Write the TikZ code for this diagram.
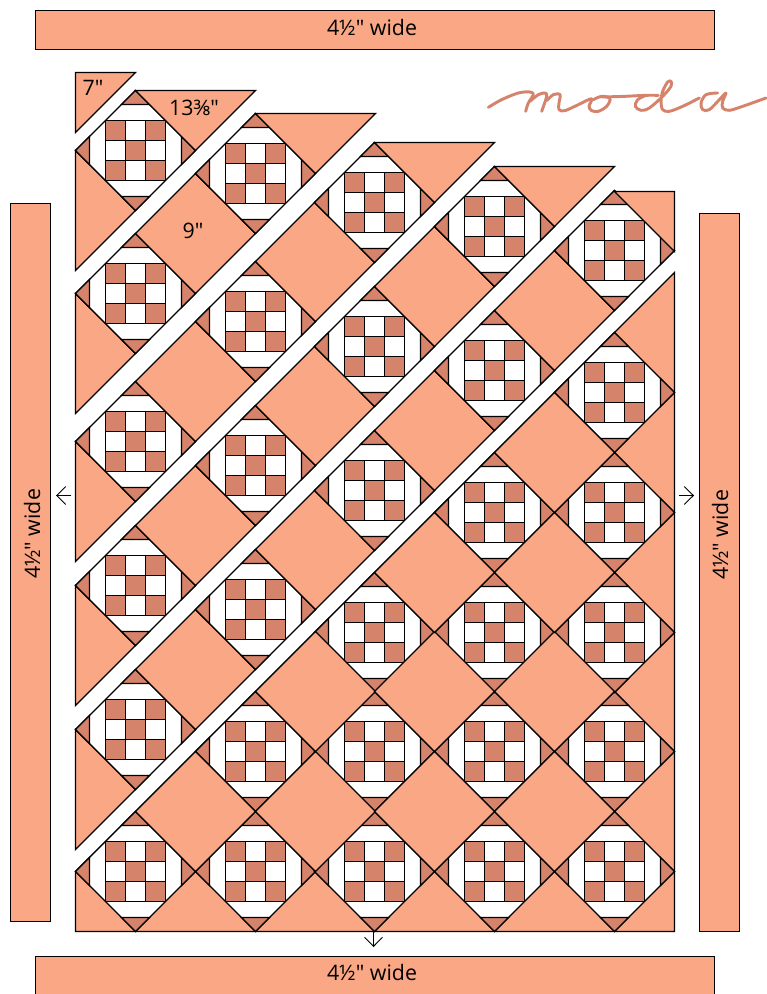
\documentclass[tikz,border=0pt]{standalone}
\usepackage{fontspec}
\newfontfamily\labfont{Open Sans}[Ligatures=ResetAll]
\usetikzlibrary{arrows.meta}
\definecolor{peach}{HTML}{F9A785}
\definecolor{clay}{HTML}{D5836A}
\tikzset{
  x=0.75pt,y=-0.75pt,
  line join=miter,
  outline/.style={draw=black,line width=1pt},
  peachfill/.style={outline,fill=peach},
  clayfill/.style={outline,fill=clay},
  whitefill/.style={outline,fill=white},
  label/.style={font=\labfont\fontsize{16}{18}\selectfont,text=black,inner sep=0pt},
  pointer/.style={draw=black,line width=0.7pt,-{Straight Barb[length=6.8pt,width=13.5pt,line width=0.7pt]}},
  wordmark/.style={draw=clay,line width=2.2pt,line cap=round,line join=round}
}
\newcommand{\snapxy}[2]{\pgfmathsetmacro{\sxx}{floor(#1)+0.5}\pgfmathsetmacro{\syy}{floor(#2)+0.5}}
\newcommand{\quiltblock}[2]{%
  \snapxy{#1}{#2}%
  \begin{scope}[shift={(\sxx,\syy)}]
    \draw[whitefill] (-60,0) -- (0,-60) -- (60,0) -- (0,60) -- cycle;
    \draw[clayfill] (0,-60) -- (14,-46) -- (-14,-46) -- cycle;
    \draw[clayfill] (0,60) -- (14,46) -- (-14,46) -- cycle;
    \draw[clayfill] (-60,0) -- (-46,14) -- (-46,-14) -- cycle;
    \draw[clayfill] (60,0) -- (46,14) -- (46,-14) -- cycle;
    \foreach \i in {-1,0,1}{\foreach \j in {-1,0,1}{%
      \pgfmathparse{int(mod(\i+\j+2,2))}%
      \ifnum\pgfmathresult=0
        \draw[clayfill] ({\i*20-10},{\j*20-10}) rectangle ++(20,20);
      \else
        \draw[whitefill] ({\i*20-10},{\j*20-10}) rectangle ++(20,20);
      \fi}}
  \end{scope}}
\newcommand{\quiltsquare}[2]{%
  \snapxy{#1}{#2}%
  \draw[peachfill] ({\sxx-60},\syy) -- (\sxx,{\syy-60}) -- ({\sxx+60},\syy) -- (\sxx,{\syy+60}) -- cycle;}
\newcommand{\lefttri}[2]{%
  \snapxy{#1}{#2}%
  \draw[peachfill] ({\sxx-60},\syy) -- ({\sxx-60},{\syy+120}) -- (\sxx,{\syy+60}) -- cycle;}
\newcommand{\toptri}[2]{%
  \snapxy{#1}{#2}%
  \draw[peachfill] (\sxx,{\syy-60}) -- ({\sxx+120},{\syy-60}) -- ({\sxx+60},\syy) -- cycle;}
\newcommand{\quiltstrip}[2]{%
  \lefttri{135.5}{#1}
  \foreach \n in {1,...,#2}{%
    \pgfmathsetmacro{\bx}{135.5+119.7*(\n-1)}
    \pgfmathsetmacro{\by}{#1-119.7*(\n-1)}
    \quiltblock{\bx}{\by}
    \ifnum\n<#2
      \quiltsquare{\bx+59.85}{\by-59.85}
    \fi
  }}
\begin{document}
\begin{tikzpicture}
\useasboundingbox (0,0) rectangle (766,994);
\begin{scope}
\clip (0,0) rectangle (766,994);
\draw[peachfill] (35.5,10.5) rectangle (714.5,49.5);
\draw[peachfill] (35.5,956.5) rectangle (714.5,1000);
\draw[peachfill] (10.5,203.5) rectangle (50.5,921.5);
\draw[peachfill] (699.5,213.5) rectangle (739.5,931.5);
\end{scope}
\node[label] (topb) at (372,28) {4½" wide};
\node[label] (botb) at (372,972) {4½" wide};
\node[label,rotate=90] (leftb) at (32,534) {4½" wide};
\node[label,rotate=90] (rightb) at (720,535) {4½" wide};
\draw[peachfill] (75.5,72.5) -- (135.5,72.5) -- (75.5,132.5) -- cycle;
\quiltstrip{150.5}{1}
\toptri{135.5}{150.5}
\quiltstrip{293.5}{2}
\toptri{255.2}{173.8}
\quiltstrip{441.5}{3}
\toptri{374.9}{202.1}
\quiltstrip{585.5}{4}
\toptri{494.6}{226.4}
\quiltstrip{729.5}{5}
\draw[peachfill] (614.5,191.5) -- (674.5,191.5) -- (674.5,251.5) -- cycle;
\draw[peachfill] (75.5,871.5) -- (75.5,931.5) -- (674.5,931.5) -- (674.5,272.5) -- cycle;
\foreach \c in {0,...,4}{%
  \foreach \r in {0,...,4}{%
    \pgfmathtruncatemacro{\ok}{\r<=\c ? 1 : 0}
    \ifnum\ok=1
      \pgfmathsetmacro{\bx}{135.5+119.7*\c}
      \pgfmathsetmacro{\by}{871.5-119.7*\r}
      \quiltblock{\bx}{\by}
    \fi}}
\foreach \c in {1,...,4}{%
  \pgfmathtruncatemacro{\rm}{\c-1}
  \foreach \r in {0,...,\rm}{%
    \pgfmathsetmacro{\sx}{135.5+119.7*\c-59.85}
    \pgfmathsetmacro{\sy}{871.5-119.7*\r-59.85}
    \quiltsquare{\sx}{\sy}
  }}
\node[label] (sevenin) at (93,88) {7"};
\node[label] (thirteen) at (194,108) {13⅜"};
\node[label] (ninein) at (193,231) {9"};
\coordinate (la) at (71,495.5); \coordinate (lb) at (56,495.5);
\coordinate (ra) at (679,495.5); \coordinate (rb) at (694,495.5);
\coordinate (ba) at (373.5,931); \coordinate (bb) at (373.5,947);
\draw[pointer] (la) -- (lb);
\draw[pointer] (ra) -- (rb);
\draw[pointer] (ba) -- (bb);
\begin{scope}[shift={(485,78)},x=0.25pt,y=-0.25pt]
\draw[wordmark] plot[smooth,tension=0.55] coordinates {(10,88) (50,65) (100,45) (135,42) (145,50) (130,75) (122,100)};
\draw[wordmark] plot[smooth,tension=0.55] coordinates {(135,70) (160,50) (180,45) (185,55) (170,100)};
\draw[wordmark] plot[smooth,tension=0.55] coordinates {(185,68) (205,50) (225,50) (222,75) (222,95) (240,98) (280,80) (320,62) (312,85) (320,98) (340,100) (365,85) (375,62) (350,55) (325,65)};
\draw[wordmark] plot[smooth,tension=0.55] coordinates {(350,57) (420,55) (481,52) (520,52)};
\end{scope}
\begin{scope}[shift={(626,78)},x=0.25pt,y=-0.25pt]
\draw[wordmark] plot[smooth,tension=0.55] coordinates {(60,52) (35,65) (28,85) (45,97) (70,90) (110,55) (135,25) (135,10) (125,12) (110,40) (105,70) (110,95) (130,100) (170,85) (220,60)};
\draw[wordmark] plot[smooth,tension=0.55] coordinates {(275,45) (240,50) (225,75) (230,95) (250,95) (280,65) (300,45) (290,70) (290,90) (310,97) (350,85) (420,60)};
\end{scope}
\end{tikzpicture}
\end{document}
